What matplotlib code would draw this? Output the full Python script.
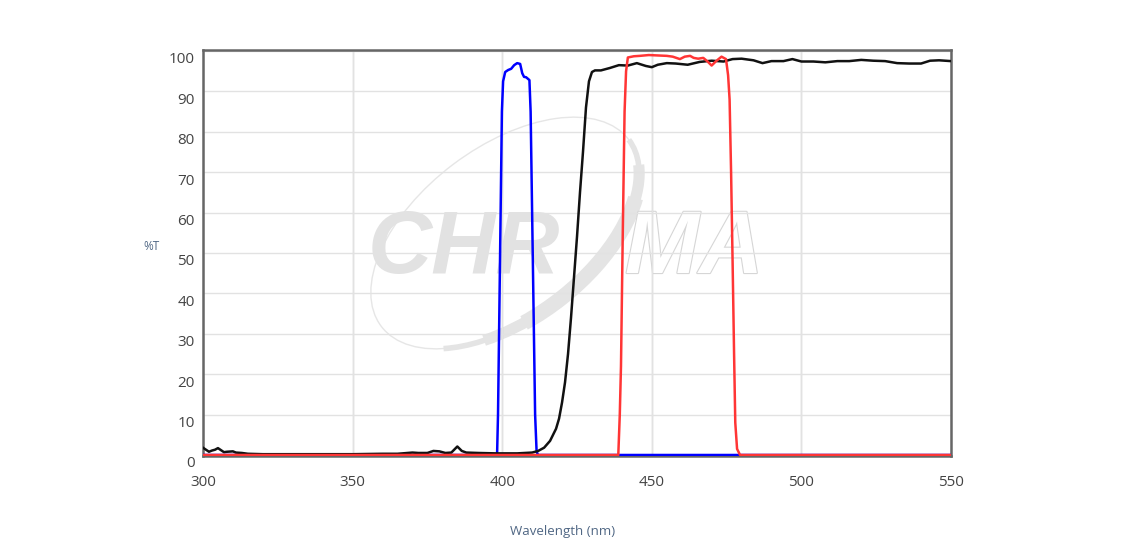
import matplotlib
matplotlib.use("Agg")
import matplotlib.pyplot as plt
import matplotlib.patheffects as pe
from matplotlib.patches import Arc, Ellipse
from matplotlib.transforms import ScaledTranslation

# transmission spectra (%T vs wavelength in nm)
black_wl = [300, 301, 302, 303, 304, 305, 306, 307, 308, 310, 311, 313, 315, 320, 330,
            340, 350, 360, 365, 370, 372, 375, 377, 379, 381, 383, 385, 386.5, 388, 392,
            398, 405, 410, 412, 414, 416, 418, 419, 420, 421, 422, 423, 424, 425, 426,
            427, 428, 429, 430, 431, 433, 436, 439, 442, 445, 448, 450, 452, 455, 458,
            462, 466, 470, 474, 477, 480, 484, 487, 490, 494, 497, 500, 504, 508, 512,
            516, 520, 524, 528, 532, 536, 540, 543, 546, 550]
black_t = [1.8, 1.3, 0.8, 1.1, 1.3, 1.7, 1.2, 0.7, 0.8, 0.9, 0.6, 0.5, 0.3, 0.2, 0.2,
           0.2, 0.2, 0.3, 0.3, 0.6, 0.5, 0.5, 1.0, 0.9, 0.5, 0.6, 2.1, 1.0, 0.6, 0.5,
           0.4, 0.4, 0.6, 1.0, 1.8, 3.5, 6.5, 9, 13, 18, 25, 34, 44, 54, 65,
           75, 86, 92.5, 94.8, 95.2, 95.2, 95.8, 96.5, 96.4, 97.0, 96.3, 96.0, 96.6, 97.0, 96.9,
           96.6, 97.3, 97.6, 97.4, 98.0, 98.1, 97.7, 97.0, 97.5, 97.5, 98.0, 97.4, 97.4, 97.2, 97.5,
           97.5, 97.8, 97.6, 97.5, 97.0, 96.9, 96.9, 97.6, 97.7, 97.5]

blue_wl = [300, 398.0, 398.3, 398.6, 399.3, 399.9, 400.3, 401, 402, 403, 404, 405, 406,
           406.7, 407.3, 408, 409.1, 409.5, 410.2, 411.0, 411.5, 412, 550]
blue_t = [0, 0, 0.5, 10, 50, 85, 92.5, 94.8, 95.3, 95.6, 96.5, 97.0, 96.8,
          94.5, 93.6, 93.5, 92.8, 85, 50, 10, 0.8, 0, 0]

red_wl = [300, 438.8, 439.3, 439.7, 440.3, 440.9, 441.4, 442, 444, 446, 449, 452, 455,
          457, 459.4, 461, 462.8, 464, 465.5, 467.2, 468.5, 470, 471.5, 473.3, 474.8,
          475.5, 476, 476.5, 477, 477.5, 477.9, 478.5, 479.5, 550]
red_t = [0, 0, 10, 22, 55, 85, 95, 98.4, 98.7, 98.8, 99.0, 98.9, 98.8,
         98.6, 98.0, 98.6, 98.8, 98.3, 98.1, 98.3, 97.5, 96.4, 97.5, 98.6, 98.0,
         94, 88, 70, 48, 25, 8, 1.5, 0, 0]

x_ticks = [300, 350, 400, 450, 500, 550]
y_ticks = [0, 10, 20, 30, 40, 50, 60, 70, 80, 90, 100]

W, H = 1128, 558
fig = plt.figure(figsize=(W / 100, H / 100), dpi=100)
ax = fig.add_axes([203 / W, 1 - 456 / H, (951 - 203) / W, (456 - 50) / H])

# faint CHROMA watermark (drawn in inches so it keeps its shape)
inch = fig.dpi_scale_trans
wm_c = (5.05, 3.25)
ax.add_patch(Ellipse(wm_c, 3.1, 1.72, angle=37, fill=False, ec="#e6e6e6",
                     lw=1.0, transform=inch, zorder=0.2))
for t1, t2, w in [(205, 360, 4), (222, 350, 8), (245, 338, 11)]:
    ax.add_patch(Arc(wm_c, 3.1, 1.72, angle=37, theta1=t1, theta2=t2,
                     ec="#e4e4e4", lw=w, transform=inch, zorder=0.2))
ax.text(5.60, 2.85, "CHR", transform=inch, ha="right", va="baseline",
        fontsize=64, fontweight="bold", fontstyle="italic", family="Liberation Sans",
        color="#e2e2e2", zorder=0.3)
ax.text(6.25, 2.85, "MA", transform=inch, ha="left", va="baseline",
        fontsize=64, fontweight="bold", fontstyle="italic", family="Liberation Sans",
        color="white", zorder=0.3,
        path_effects=[pe.withStroke(linewidth=1.6, foreground="#d6d6d6")])

ax.plot(blue_wl, blue_t, color="#0000ff", lw=1.8, zorder=3)
ax.plot(black_wl, black_t, color="#111111", lw=1.8, zorder=3)
ax.plot(red_wl, red_t, color="#ff3535", lw=1.8, zorder=4)

ax.set_xlim(300, 550)
ax.set_ylim(-0.25, 100.25)
ax.set_xticks(x_ticks)
ax.set_yticks(y_ticks)
ax.set_axisbelow(True)
ax.grid(True, color="#e2e2e2", lw=1)
for xv in x_ticks[1:-1]:
    ax.axvline(xv, color="#d4d4d4", lw=1, zorder=0.5)

ax.tick_params(length=0, labelsize=11, labelcolor="#444444")
ax.tick_params(axis="x", pad=14)
ax.tick_params(axis="y", pad=6)
for lbl in ax.get_yticklabels():
    lbl.set_transform(lbl.get_transform() + ScaledTranslation(0, -5 / 72, fig.dpi_scale_trans))
for lbl in ax.get_xticklabels() + ax.get_yticklabels():
    lbl.set_family("Open Sans")

for s in ax.spines.values():
    s.set_color("#666666")
    s.set_linewidth(1.8)

fig.text(152 / W, 1 - 247 / H, "%T", ha="center", va="center", fontsize=8.5,
         color="#506784", family="Open Sans")
fig.text(563 / W, 1 - 532 / H, "Wavelength (nm)", ha="center", va="center", fontsize=9.5,
         color="#506784", family="Open Sans")

fig.savefig("out.png", dpi=100, facecolor="white")
